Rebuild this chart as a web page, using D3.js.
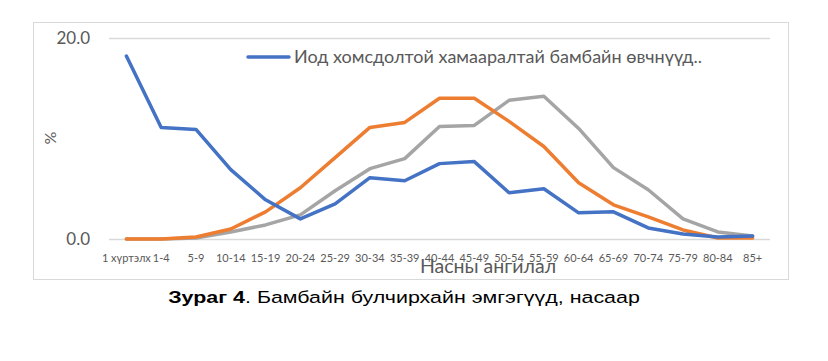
<!DOCTYPE html>
<html><head><meta charset="utf-8">
<script src="https://cdn.jsdelivr.net/npm/d3@7"></script>
<style>body{margin:0;background:#fff}svg{display:block}</style>
</head><body>
<svg id="c" width="828" height="361"></svg>
<script>
const categories = ["1 хүртэлх","1-4","5-9","10-14","15-19","20-24","25-29","30-34","35-39","40-44","45-49","50-54","55-59","60-64","65-69","70-74","75-79","80-84","85+"];
const blueValues   = [18.2,11.1,10.9,6.9,3.9,2.0,3.5,6.1,5.8,7.5,7.7,4.6,5.0,2.6,2.7,1.1,0.5,0.2,0.3];
const orangeValues = [0,0,0.2,1.0,2.7,5.1,8.1,11.1,11.6,14.0,14.0,11.7,9.2,5.6,3.4,2.2,0.9,0.1,0.1];
const grayValues   = [0,0,0.1,0.7,1.4,2.4,4.8,7.0,8.0,11.2,11.3,13.8,14.2,11.0,7.1,4.9,2.0,0.7,0.3];
const yTicks = [0, 20];
const legendLabel = "Иод хомсдолтой хамааралтай бамбайн өвчнүүд..";
const xTitle = "Насны ангилал";
const yTitle = "%";

const svg = d3.select("#c");
const font = "Lato, 'Open Sans', sans-serif";
const txt = "#595959";

// frame
svg.append("rect").attr("x",33.5).attr("y",22.5).attr("width",755).attr("height",257)
  .attr("fill","none").attr("stroke","#d9d9d9").attr("stroke-width",1);

const x = d3.scaleBand().domain(categories).range([109,770]);
const y = d3.scaleLinear().domain([0,20]).range([239,38]);

// gridlines
svg.append("g").selectAll("line").data(yTicks).join("line")
  .attr("x1",109).attr("x2",770).attr("y1",d=>y(d)+0.5).attr("y2",d=>y(d)+0.5)
  .attr("stroke","#d9d9d9").attr("stroke-width",1.3);

// y tick labels
svg.append("g").selectAll("text").data(yTicks).join("text")
  .attr("x",90).attr("y",d=>y(d)).attr("dy","0.35em").attr("text-anchor","end")
  .attr("font-family",font).attr("font-size",17).attr("fill",txt)
  .text(d=>d3.format(".1f")(d));

// x tick labels
svg.append("g").selectAll("text").data(categories).join("text")
  .attr("x",d=>x(d)+x.bandwidth()/2).attr("y",262).attr("text-anchor","middle")
  .attr("font-family",font).attr("font-size",11).attr("fill",txt)
  .text(d=>d);

// axis titles
svg.append("text").attr("x",488).attr("y",273).attr("text-anchor","middle")
  .attr("font-family",font).attr("font-size",19.5).attr("fill",txt).text(xTitle);
svg.append("text").attr("transform","translate(56,138) rotate(-90)").attr("text-anchor","middle")
  .attr("font-family",font).attr("font-size",16).attr("fill",txt).text(yTitle);

// lines
const line = d3.line().x((d,i)=>x(categories[i])+x.bandwidth()/2).y(d=>y(d));
[[grayValues,"#a5a5a5"],[orangeValues,"#ed7d31"],[blueValues,"#4472c4"]].forEach(([vals,col])=>{
  svg.append("path").datum(vals).attr("d",line).attr("fill","none")
    .attr("stroke",col).attr("stroke-width",3.5).attr("stroke-linejoin","round").attr("stroke-linecap","round");
});

// legend
svg.append("line").attr("x1",248).attr("x2",289).attr("y1",57).attr("y2",57)
  .attr("stroke","#4472c4").attr("stroke-width",3.5).attr("stroke-linecap","round");
svg.append("text").attr("x",294).attr("y",57).attr("dy","0.35em")
  .attr("font-family",font).attr("font-size",18).attr("fill",txt).text(legendLabel);

// caption
const cap = svg.append("text").attr("transform","translate(404,303) scale(1.26,1)").attr("text-anchor","middle")
  .attr("font-family","'Liberation Sans', Arial, sans-serif").attr("font-size",17).attr("fill","#000");
cap.append("tspan").attr("font-weight","bold").text("Зураг 4");
cap.append("tspan").text(". Бамбайн булчирхайн эмгэгүүд, насаар");
</script>
</body></html>
